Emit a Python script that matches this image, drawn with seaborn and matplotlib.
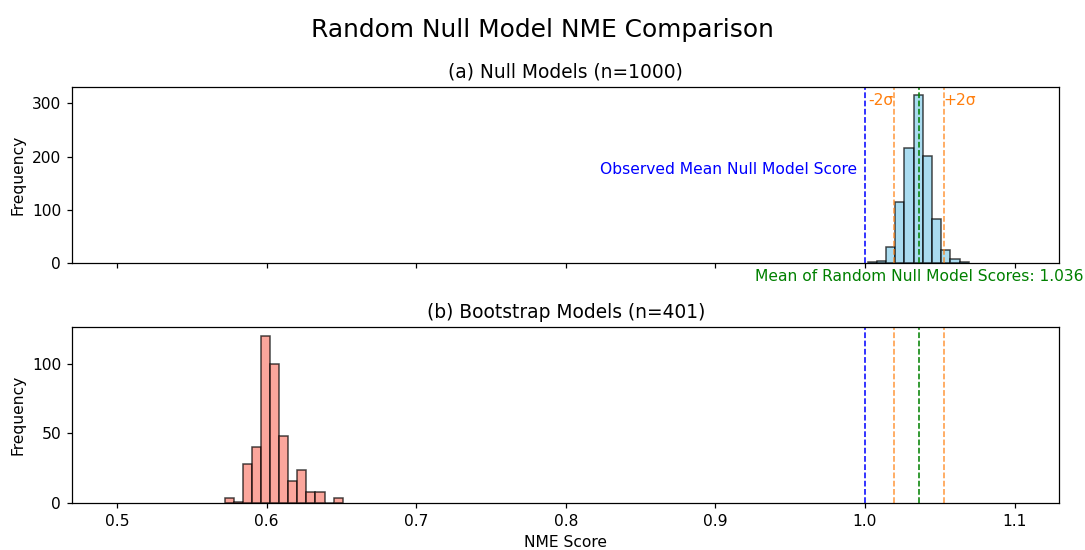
import numpy as np
import pandas as pd
import matplotlib
matplotlib.use("Agg")
import matplotlib.pyplot as plt
import matplotlib.transforms as mtransforms
import seaborn as sns

# Null model NME score histogram (bin edges and counts)
null_edges = [1.0019 + 0.00614 * i for i in range(12)]
null_counts = [1, 3, 30, 115, 217, 315, 202, 83, 25, 8, 1]

# Bootstrap model NME score histogram
boot_edges = [0.5720 + 0.00607 * i for i in range(14)]
boot_counts = [4, 1, 28, 40, 120, 100, 48, 16, 24, 8, 8, 0, 4]

observed_score = 1.0
null_mean = 1.036
null_std = 0.0083

null_df = pd.DataFrame({
    "score": [(a + b) / 2 for a, b in zip(null_edges[:-1], null_edges[1:])],
    "count": null_counts,
})
boot_df = pd.DataFrame({
    "score": [(a + b) / 2 for a, b in zip(boot_edges[:-1], boot_edges[1:])],
    "count": boot_counts,
})

DPI = 112
fig = plt.figure(figsize=(1085 / DPI, 550 / DPI), dpi=DPI)
ax1 = fig.add_axes([0.0664, 0.5218, 0.91, 0.32])
ax2 = fig.add_axes([0.0664, 0.0849, 0.91, 0.32], sharex=ax1)

edge = (0, 0, 0, 0.7)
sns.histplot(data=null_df, x="score", weights="count", bins=null_edges,
             color="skyblue", alpha=0.7, edgecolor=edge, linewidth=1.0, ax=ax1)
sns.histplot(data=boot_df, x="score", weights="count", bins=boot_edges,
             color="salmon", alpha=0.7, edgecolor=edge, linewidth=1.0, ax=ax2)

lo, hi = null_mean - 2 * null_std, null_mean + 2 * null_std
for ax in (ax1, ax2):
    ax.axvline(observed_score, color="blue", linestyle="--", linewidth=1.0)
    ax.axvline(null_mean, color="green", linestyle="--", linewidth=1.0)
    ax.axvline(lo, color="tab:orange", linestyle="--", linewidth=1.0, alpha=0.8)
    ax.axvline(hi, color="tab:orange", linestyle="--", linewidth=1.0, alpha=0.8)
    ax.set_ylabel("Frequency", fontsize=10)

ax1.set_xlim(0.47, 1.13)
ax1.tick_params(labelbottom=False)
ax1.set_xlabel("")
ax2.set_xlabel("NME Score", fontsize=10)
ax1.set_yticks([0, 100, 200, 300])
ax2.set_yticks([0, 50, 100])

tr1 = mtransforms.blended_transform_factory(ax1.transData, ax1.transAxes)
ax1.text(lo, 0.925, "-2σ", color="tab:orange", ha="right", va="center", fontsize=10, transform=tr1)
ax1.text(hi, 0.925, "+2σ", color="tab:orange", ha="left", va="center", fontsize=10, transform=tr1)
ax1.text(observed_score - 0.005, 0.53, "Observed Mean Null Model Score", color="blue",
         ha="right", va="center", fontsize=10, transform=tr1)
ax1.text(null_mean, -0.035, f"Mean of Random Null Model Scores: {null_mean:.3f}", color="green",
         ha="center", va="top", fontsize=10, transform=tr1)

ax1.set_title("(a) Null Models (n=1000)", fontsize=12)
ax2.set_title("(b) Bootstrap Models (n=401)", fontsize=12)
fig.suptitle("Random Null Model NME Comparison", fontsize=16, y=0.967)

fig.savefig("out.png", dpi=DPI)
